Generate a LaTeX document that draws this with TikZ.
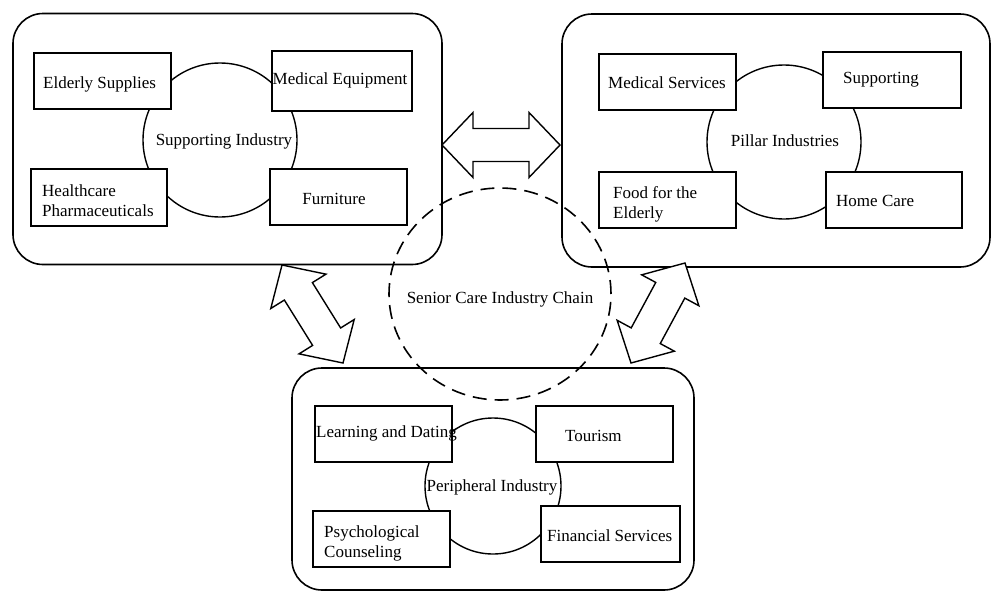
\documentclass[tikz,border=0pt]{standalone}
\usepackage{fontspec}
\setmainfont{Liberation Serif}
\usetikzlibrary{calc,shapes.geometric}
\tikzset{
  panel/.style={draw, line width=1.6pt, rounded corners=30pt, inner sep=0pt},
  ibox/.style={draw, fill=white, line width=1.5pt, inner sep=0pt, minimum height=56pt},
  hub/.style={draw, circle, line width=1.4pt, inner sep=0pt},
  chain/.style={draw, ellipse, line width=1.6pt, dash pattern=on 14pt off 8pt, inner sep=0pt},
  lbl/.style={inner sep=0pt, font=\fontsize{17pt}{20pt}\selectfont, align=left},
  barrow/.style={draw, fill=white, line width=1.4pt, line join=miter},
}
\newcommand\blockarrow[2]{%
  \draw[barrow] (#1)
   -- ($($(#1)!31pt!(#2)$)!32.5pt!90:(#2)$)
   -- ($($(#1)!31pt!(#2)$)!16.5pt!90:(#2)$)
   -- ($($(#2)!31pt!(#1)$)!16.5pt!-90:(#1)$)
   -- ($($(#2)!31pt!(#1)$)!32.5pt!-90:(#1)$)
   -- (#2)
   -- ($($(#2)!31pt!(#1)$)!32.5pt!90:(#1)$)
   -- ($($(#2)!31pt!(#1)$)!16.5pt!90:(#1)$)
   -- ($($(#1)!31pt!(#2)$)!16.5pt!-90:(#2)$)
   -- ($($(#1)!31pt!(#2)$)!32.5pt!-90:(#2)$)
   -- cycle;}
\begin{document}
\begin{tikzpicture}[x=1pt, y=-1pt]
\useasboundingbox (0,0) rectangle (996,592);
% panels
\node[panel, minimum width=429pt, minimum height=251pt] (L) at (227.5,139) {};
\node[panel, minimum width=428pt, minimum height=253pt] (R) at (776,140.5) {};
\node[panel, minimum width=402pt, minimum height=222pt] (B) at (493,479) {};
% hub circles
\node[hub, minimum size=154pt] (cL) at (220,140) {};
\node[hub, minimum size=154pt] (cR) at (784,142) {};
\node[hub, minimum size=136pt] (cB) at (493,486) {};
% boxes left
\node[ibox, minimum width=137pt] (es) at (102.5,81) {};
\node[ibox, minimum width=140pt, minimum height=60pt] (me) at (342,81) {};
\node[ibox, minimum width=136pt, minimum height=57pt] (hp) at (99,197.5) {};
\node[ibox, minimum width=137pt] (fu) at (338.5,197) {};
% boxes right
\node[ibox, minimum width=137pt] (ms) at (667.5,82) {};
\node[ibox, minimum width=138pt] (su) at (892,80) {};
\node[ibox, minimum width=137pt] (fe) at (667.5,200) {};
\node[ibox, minimum width=136pt] (hc) at (894,200) {};
% boxes bottom
\node[ibox, minimum width=137pt] (ld) at (383.5,434) {};
\node[ibox, minimum width=137pt] (to) at (604.5,434) {};
\node[ibox, minimum width=137pt] (pc) at (381.5,539) {};
\node[ibox, minimum width=139pt] (fs) at (610.5,534) {};
% chain
\node[chain, minimum width=222pt, minimum height=212pt] (ch) at (500,294) {};
% block arrows
\coordinate (h1) at (442,145);
\coordinate (h2) at (560,145);
\coordinate (d1) at (282,265);
\coordinate (d2) at (343,363);
\coordinate (e1) at (685,263);
\coordinate (e2) at (631,363);
\blockarrow{h1}{h2}
\blockarrow{d1}{d2}
\blockarrow{e1}{e2}
% texts
\node[lbl] (tcL) at (224,141) {Supporting Industry};
\node[lbl] (tcR) at (785,141) {Pillar Industries};
\node[lbl] (tcB) at (492,487) {Peripheral Industry};
\node[lbl] (tch) at (500,299) {Senior Care Industry Chain};
\node[lbl, anchor=west] (tes) at (43,84) {Elderly Supplies};
\node[lbl] (tme) at (340,80) {Medical Equipment};
\node[lbl, anchor=west] (thp) at (42,201) {Healthcare\\Pharmaceuticals};
\node[lbl] (tfu) at (334,199) {Furniture};
\node[lbl, anchor=west] (tms) at (608,83) {Medical Services};
\node[lbl, anchor=west] (tsu) at (843,80) {Supporting};
\node[lbl, anchor=west] (tfe) at (613,204) {Food for the\\Elderly};
\node[lbl, anchor=west] (thc) at (836,201) {Home Care};
\node[lbl, anchor=west] (tld) at (316,433) {Learning and Dating};
\node[lbl, anchor=west] (tto) at (565,436) {Tourism};
\node[lbl, anchor=west] (tpc) at (324,543) {Psychological\\Counseling};
\node[lbl, anchor=west] (tfs) at (547,536) {Financial Services};
\end{tikzpicture}
\end{document}
